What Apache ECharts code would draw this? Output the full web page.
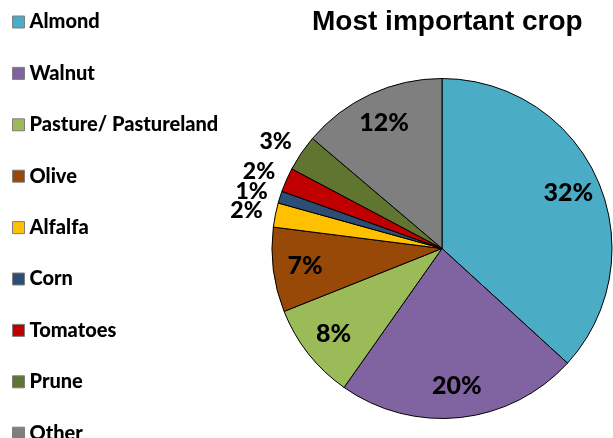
<!DOCTYPE html>
<html>
<head>
<meta charset="utf-8">
<script src="https://cdn.jsdelivr.net/npm/echarts@6/dist/echarts.min.js"></script>
<style>
  html, body { margin: 0; padding: 0; background: #ffffff; }
  #chart { width: 613px; height: 438px; }
</style>
</head>
<body>
<div id="chart"></div>
<script>
// Survey answers: share of respondents naming each crop (%)
const crops = ['Almond', 'Walnut', 'Pasture/ Pastureland', 'Olive', 'Alfalfa', 'Corn', 'Tomatoes', 'Prune', 'Other'];
const shares = [32, 20, 8, 7, 2, 1, 2, 3, 12];
const cropColors = ['#4BACC6', '#8064A2', '#9BBB59', '#984807', '#FFC000', '#2C4D75', '#C00000', '#5F7530', '#7F7F7F'];

// Slices below this share get their label outside the pie
const outsideLimit = 5;

const chart = echarts.init(document.getElementById('chart'), null, { renderer: 'canvas' });

const labelFont = { fontFamily: 'Lato', fontWeight: 900, fontSize: 25, color: '#000' };
const center = [442, 248.5];
const radius = 170;

const pieData = crops.map((name, i) => ({
  name: name,
  value: shares[i],
  itemStyle: { color: cropColors[i] },
  label: { show: shares[i] < outsideLimit }
}));

const innerLabelData = crops.map((name, i) => ({
  name: name,
  value: shares[i],
  label: { show: shares[i] >= outsideLimit }
}));

chart.setOption({
  backgroundColor: '#ffffff',
  animation: false,
  title: {
    text: 'Most important crop',
    left: 307,
    top: 3,
    textStyle: { fontFamily: 'Liberation Sans', fontWeight: 'bold', fontSize: 28, color: '#000' }
  },
  legend: {
    orient: 'vertical',
    left: 12,
    top: 12,
    height: 600,
    padding: 0,
    itemWidth: 12,
    itemHeight: 12,
    itemGap: 31.4,
    icon: 'rect',
    data: crops,
    itemStyle: { borderColor: '#7f7f7f', borderWidth: 1 },
    textStyle: { fontFamily: 'Lato', fontWeight: 900, fontSize: 20, color: '#000', lineHeight: 20 }
  },
  series: [
    {
      type: 'pie',
      center: center,
      radius: [0, radius],
      startAngle: 90,
      clockwise: true,
      avoidLabelOverlap: false,
      data: pieData,
      itemStyle: { borderColor: '#000', borderWidth: 1 },
      label: Object.assign({ position: 'outside', formatter: '{c}%' }, labelFont, { fontSize: 23 }),
      labelLine: { show: false, length: 20, length2: -12 },
      labelLayout: { hideOverlap: false },
      emphasis: { disabled: true }
    },
    {
      // transparent ring that only carries the in-slice percentages
      type: 'pie',
      center: center,
      radius: [100, radius],
      startAngle: 90,
      clockwise: true,
      silent: true,
      avoidLabelOverlap: false,
      data: innerLabelData,
      itemStyle: { color: 'rgba(0,0,0,0)', borderWidth: 0 },
      label: Object.assign({ position: 'inside', formatter: '{c}%' }, labelFont),
      labelLine: { show: false },
      labelLayout: { hideOverlap: false },
      legendHoverLink: false,
      emphasis: { disabled: true }
    }
  ]
});
</script>
</body>
</html>
